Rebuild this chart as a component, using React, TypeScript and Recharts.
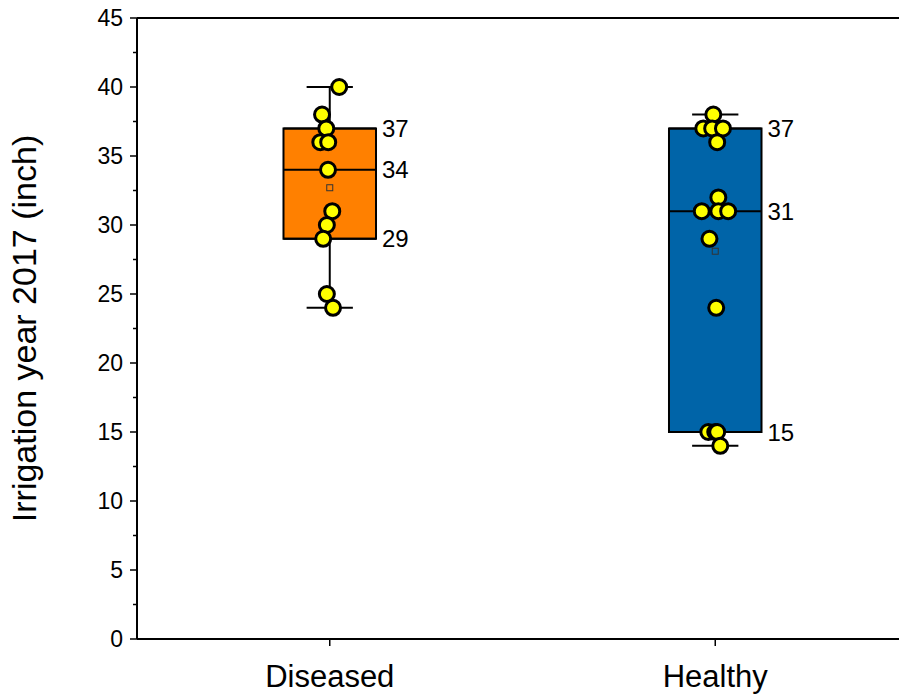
import React from 'react';
import {
  ComposedChart,
  XAxis,
  YAxis,
  Scatter,
  ReferenceArea,
  ReferenceLine,
} from 'recharts';

// ---- data ----
const categories = ['Diseased', 'Healthy'];
const categoryPos = [1, 3];
const boxColors = ['#FF8000', '#0064A8'];
const q1 = [29, 15];
const median = [34, 31];
const q3 = [37, 37];
const whiskerLow = [24, 14];
const whiskerHigh = [40, 38];
const means = [32.7, 28.1];

const diseasedValues = [40, 38, 37, 36, 36, 34, 31, 30, 29, 25, 24];
const diseasedJitter = [0.049, -0.04, -0.018, -0.049, -0.008, -0.009, 0.013, -0.015, -0.034, -0.015, 0.017];
const healthyValues = [38, 37, 37, 37, 36, 32, 31, 31, 31, 29, 24, 15, 15, 15, 14];
const healthyJitter = [-0.01, -0.062, -0.016, 0.04, 0.01, 0.016, -0.07, 0.016, 0.067, -0.03, 0.005, -0.036, 0.0, 0.01, 0.026];

const yTicks = [0, 2.5, 5, 7.5, 10, 12.5, 15, 17.5, 20, 22.5, 25, 27.5, 30, 32.5, 35, 37.5, 40, 42.5, 45];

// ---- derived tables ----
const groupValues = [diseasedValues, healthyValues];
const groupJitter = [diseasedJitter, healthyJitter];
const pointData = groupValues.map((vals, g) =>
  vals.map((v, i) => ({ x: categoryPos[g] + groupJitter[g][i], y: v }))
);
const meanData = means.map((m, g) => ({ x: categoryPos[g], y: m }));

const BOX_HALF = 0.24;
const CAP_HALF = 0.12;
const FONT = '"Liberation Sans", Arial, Helvetica, sans-serif';

const YTick = (props: any) => {
  const { x, y, payload } = props;
  const v = payload.value;
  const major = Math.abs(v % 5) < 1e-6;
  const axisX = x + 13;
  return (
    <g>
      <line x1={axisX - (major ? 7 : 4)} x2={axisX} y1={y} y2={y} stroke="#000" strokeWidth={1.5} />
      {major && (
        <text x={x - 1} y={y} dy="0.355em" textAnchor="end" fontSize={23} fill="#000" fontFamily={FONT}>
          {v}
        </text>
      )}
    </g>
  );
};

const Dot = (props: any) => {
  const { cx, cy } = props;
  if (cx == null || cy == null) return null;
  return <circle cx={cx} cy={cy} r={7.5} fill="#FFFF00" stroke="#000" strokeWidth={3} />;
};

const MeanMark = (props: any) => {
  const { cx, cy } = props;
  if (cx == null || cy == null) return null;
  return <rect x={cx - 3} y={cy - 3} width={6} height={6} fill="none" stroke="#333" strokeWidth={1} />;
};

export default function App() {
  return (
    <div
      style={{
        position: 'absolute',
        left: 0,
        top: 0,
        width: 899,
        height: 696,
        overflow: 'hidden',
        background: '#fff',
        fontFamily: FONT,
      }}
    >
      <ComposedChart width={908} height={696} margin={{ top: 18, right: 0, bottom: 0, left: 0 }}>
        <XAxis
          type="number"
          dataKey="x"
          domain={[0, 4]}
          ticks={categoryPos}
          interval={0}
          tickFormatter={(v: number) => categories[categoryPos.indexOf(v)] ?? ''}
          height={57}
          tickSize={7}
          tickMargin={19}
          axisLine={{ stroke: '#000', strokeWidth: 2 }}
          tickLine={{ stroke: '#000', strokeWidth: 1.5 }}
          tick={{ fontSize: 31, fill: '#000', fontFamily: FONT }}
          allowDataOverflow
        />
        <YAxis
          type="number"
          dataKey="y"
          domain={[0, 45]}
          ticks={yTicks}
          interval={0}
          width={137}
          tickSize={7}
          tickMargin={6}
          tickLine={false}
          axisLine={{ stroke: '#000', strokeWidth: 2 }}
          tick={<YTick />}
          allowDataOverflow
          label={{
            value: 'Irrigation year 2017 (inch)',
            angle: -90,
            position: 'insideLeft',
            offset: 24,
            fontSize: 34,
            fill: '#000',
            fontFamily: FONT,
            style: { textAnchor: 'middle' },
          }}
        />
        <ReferenceLine y={45} stroke="#000" strokeWidth={2} />

        {categoryPos.map((p, g) => (
          <ReferenceLine
            key={'wh' + g}
            segment={[{ x: p, y: q3[g] }, { x: p, y: whiskerHigh[g] }]}
            stroke="#000"
            strokeWidth={2}
          />
        ))}
        {categoryPos.map((p, g) => (
          <ReferenceLine
            key={'wl' + g}
            segment={[{ x: p, y: whiskerLow[g] }, { x: p, y: q1[g] }]}
            stroke="#000"
            strokeWidth={2}
          />
        ))}
        {categoryPos.map((p, g) => (
          <ReferenceLine
            key={'ch' + g}
            segment={[{ x: p - CAP_HALF, y: whiskerHigh[g] }, { x: p + CAP_HALF, y: whiskerHigh[g] }]}
            stroke="#000"
            strokeWidth={2}
          />
        ))}
        {categoryPos.map((p, g) => (
          <ReferenceLine
            key={'cl' + g}
            segment={[{ x: p - CAP_HALF, y: whiskerLow[g] }, { x: p + CAP_HALF, y: whiskerLow[g] }]}
            stroke="#000"
            strokeWidth={2}
          />
        ))}
        {categoryPos.map((p, g) => (
          <ReferenceArea
            key={'box' + g}
            x1={p - BOX_HALF}
            x2={p + BOX_HALF}
            y1={q1[g]}
            y2={q3[g]}
            fill={boxColors[g]}
            fillOpacity={1}
            stroke="#000"
            strokeWidth={2}
          />
        ))}
        {categoryPos.map((p, g) =>
          [q3[g], median[g], q1[g]].map((v, k) => (
            <ReferenceLine
              key={'lv' + g + '_' + k}
              segment={[{ x: p - BOX_HALF, y: v }, { x: p + BOX_HALF, y: v }]}
              stroke="#000"
              strokeWidth={2}
              label={{
                value: String(v),
                position: 'right',
                offset: 6,
                fontSize: 24,
                fill: '#000',
                fontFamily: FONT,
              }}
            />
          ))
        )}

        <Scatter data={meanData} shape={<MeanMark />} isAnimationActive={false} />
        {pointData.map((d, g) => (
          <Scatter key={'pts' + g} data={d} shape={<Dot />} isAnimationActive={false} />
        ))}
      </ComposedChart>
    </div>
  );
}
